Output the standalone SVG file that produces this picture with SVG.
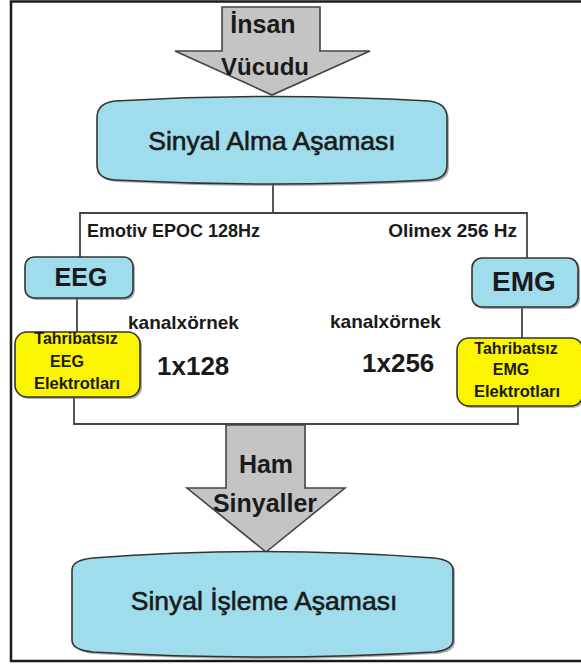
<svg xmlns="http://www.w3.org/2000/svg" width="581" height="664" viewBox="0 0 581 664">
<style>
  text { font-family: "Liberation Sans", Arial, sans-serif; fill: #1a1a1a; }
  .b { font-weight: bold; }
  .c { text-anchor: middle; }
  .m { stroke: #1a1a1a; stroke-width: 0.6; }
  .conn { fill: none; stroke: #444; stroke-width: 1.8; }
  .blue { fill: #9fdcec; stroke: #333; stroke-width: 1.6; }
  .yellow { fill: #fbf500; stroke: #333; stroke-width: 1.6; }
  .arrow { fill: #c4c4c4; stroke: #444; stroke-width: 1.6; }
  .shadow { fill: #777; opacity: 0.6; }
</style>
<rect x="11" y="1.5" width="590" height="659.5" fill="#fff" stroke="#1a1a1a" stroke-width="2.5"/>

<g id="connectors">
  <path class="conn" d="M273,183 V213"/>
  <path class="conn" d="M80,257 V213 H527 V258"/>
  <path class="conn" d="M77,298 V332"/>
  <path class="conn" d="M522,307 V338"/>
  <path class="conn" d="M74,397 V424 H518 V406"/>
</g>

<g id="insan-vucudu">
  <path class="arrow" d="M222,7 H320 V51 H370 L272,95 L175,51 H222 Z"/>
  <text class="b c" x="263" y="33" font-size="25">İnsan</text>
  <text class="b c" x="265" y="75" font-size="24">Vücudu</text>
</g>

<g id="sinyal-alma">
  <path class="shadow" d="M99,120 Q99,105 117,103 Q274,94 431,103 Q449,105 449,120 L449,167 Q449,181 431,182 Q274,190 117,182 Q99,181 99,167 Z"/>
  <path class="blue" d="M97,118 Q97,103 115,101 Q272,92 429,101 Q447,103 447,118 L447,165 Q447,179 429,180 Q272,188 115,180 Q97,179 97,165 Z"/>
  <text class="c m" x="272" y="150" font-size="26.5">Sinyal Alma Aşaması</text>
</g>

<g id="emotiv-label">
  <text class="b" x="87" y="237" font-size="18">Emotiv EPOC 128Hz</text>
</g>
<g id="olimex-label">
  <text class="b" x="517" y="237" font-size="19" text-anchor="end">Olimex 256 Hz</text>
</g>

<g id="eeg">
  <rect class="shadow" x="27" y="259" width="108" height="41" rx="9"/>
  <rect class="blue" x="25" y="257" width="108" height="41" rx="9"/>
  <text class="b c" x="81" y="286" font-size="25">EEG</text>
</g>

<g id="emg">
  <rect class="shadow" x="474" y="260" width="106" height="49" rx="10"/>
  <rect class="blue" x="472" y="258" width="106" height="49" rx="10"/>
  <text class="b c" x="524" y="291" font-size="28">EMG</text>
</g>

<g id="eeg-elektrot">
  <rect class="shadow" x="17" y="334" width="125" height="65" rx="12"/>
  <rect class="yellow" x="15" y="332" width="125" height="65" rx="12"/>
  <text class="b c" x="76" y="344" font-size="16">Tahribatsız</text>
  <text class="b c" x="67" y="367" font-size="16">EEG</text>
  <text class="b c" x="77" y="389" font-size="16.5">Elektrotları</text>
</g>

<g id="emg-elektrot">
  <rect class="shadow" x="459" y="340" width="126" height="68" rx="12"/>
  <rect class="yellow" x="457" y="338" width="126" height="68" rx="12"/>
  <text class="b c" x="516" y="354" font-size="16">Tahribatsız</text>
  <text class="b c" x="511" y="375" font-size="16">EMG</text>
  <text class="b c" x="517" y="397" font-size="16.5">Elektrotları</text>
</g>

<g id="eeg-info">
  <text class="b" x="128" y="329" font-size="19">kanalxörnek</text>
  <text class="b" x="157" y="375" font-size="26">1x128</text>
</g>
<g id="emg-info">
  <text class="b" x="330" y="328" font-size="19">kanalxörnek</text>
  <text class="b" x="362" y="372" font-size="26">1x256</text>
</g>

<g id="ham-sinyaller">
  <path class="arrow" d="M226,425 H305 V488 H345 L266,552 L187,488 H226 Z"/>
  <text class="b c" x="266" y="473" font-size="25">Ham</text>
  <text class="b c" x="265" y="512" font-size="25">Sinyaller</text>
</g>

<g id="sinyal-isleme">
  <path class="shadow" d="M74,572 Q74,562 95,560 Q265,547 436,560 Q455,562 455,572 L455,642 Q455,652 436,654 Q265,664 95,654 Q74,652 74,642 Z"/>
  <path class="blue" d="M72,570 Q72,560 93,558 Q263,545 434,558 Q453,560 453,570 L453,640 Q453,650 434,652 Q263,662 93,652 Q72,650 72,640 Z"/>
  <text class="c m" x="264" y="610" font-size="26.5">Sinyal İşleme Aşaması</text>
</g>
</svg>
